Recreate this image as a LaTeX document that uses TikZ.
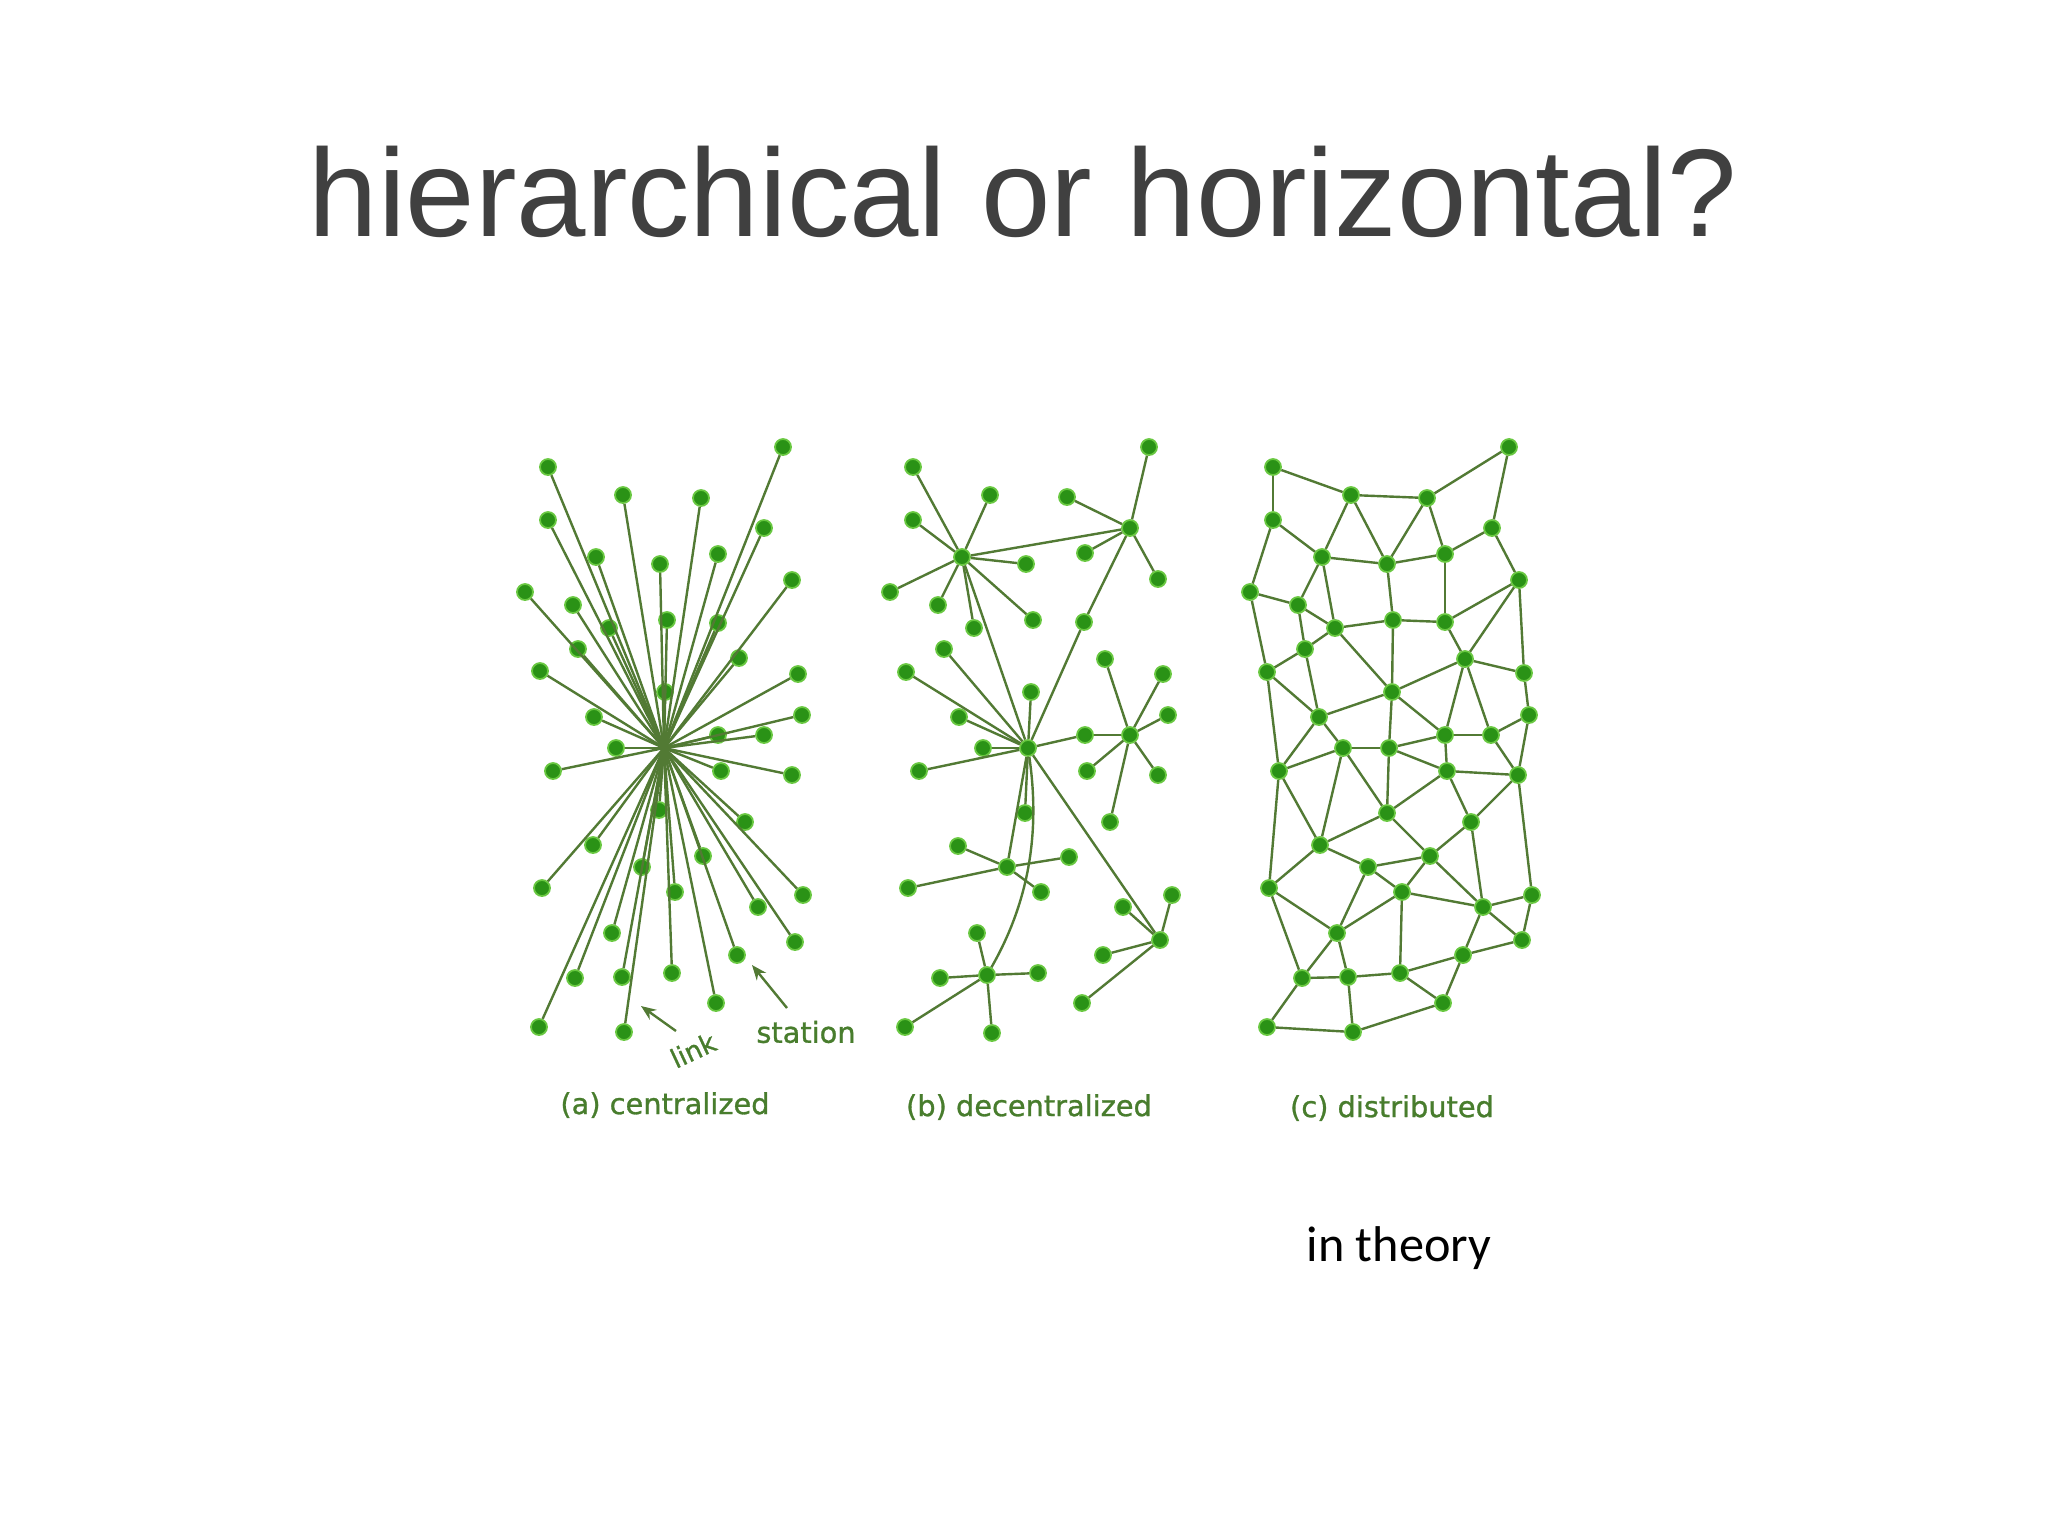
\documentclass[tikz,border=0pt]{standalone}
\usepackage{fontspec}
\setmainfont{Liberation Sans}
\newfontfamily\calib{Carlito}
\newfontfamily\handf[FakeBold=1]{DejaVu Sans}
\usetikzlibrary{arrows.meta}
\definecolor{dotg}{RGB}{42,146,22}
\definecolor{dotedge}{RGB}{105,200,65}
\definecolor{lineg}{RGB}{82,122,52}
\definecolor{labg}{RGB}{72,125,45}
\definecolor{titleg}{RGB}{64,64,64}
\begin{document}
\begin{tikzpicture}[x=0.1mm,y=-0.1mm,
  dot/.style={circle,fill=dotg,draw=dotedge,line width=0.18mm,minimum size=1.6mm,inner sep=0pt},
  link/.style={draw=lineg,line width=0.24mm},
  pointer/.style={draw=lineg,line width=0.24mm,-{Stealth[length=1.5mm,width=1.2mm]}},
  lab/.style={font=\handf\fontsize{8.2}{10}\selectfont,text=labg,inner sep=0pt}]
\useasboundingbox (0,0) rectangle (2048,1536);
\fill[white] (0,0) rectangle (2048,1536);

% title and caption
\node[anchor=base west,inner sep=0pt,text=titleg,font=\fontsize{35.5}{40}\selectfont] (title) at (308,236) {hierarchical or horizontal?};
\node[anchor=base west,inner sep=0pt,font=\calib\fontsize{14.3}{17}\selectfont] (theory) at (1306,1261) {in theory};

% ---------------- (a) centralized ----------------
\coordinate (ac) at (664,748);
\foreach \n/\x/\y in {a1/548/467,a2/783/447,a3/623/495,a4/701/498,a5/548/520,a6/764/528,
  a7/596/557,a8/718/554,a9/660/564,a10/525/592,a11/792/580,a12/573/605,a13/609/628,
  a14/667/620,a15/718/623,a16/578/649,a17/739/658,a18/540/671,a19/798/674,a20/665/692,
  a21/594/717,a22/802/715,a23/718/735,a24/764/735,a25/616/748,a26/553/771,a27/721/771,
  a28/792/775,a29/659/810,a30/745/822,a31/593/845,a32/703/856,a33/642/867,a34/542/888,
  a35/675/892,a36/803/895,a37/758/907,a38/612/933,a39/795/942,a40/737/955,a41/575/978,
  a42/622/977,a43/672/973,a44/716/1003,a45/539/1027,a46/624/1032}
  \node[dot] (\n) at (\x,\y) {};
\foreach \n in {1,...,46} \draw[link] (a\n) -- (ac);

\node[lab] (alab) at (665,1105) {(a) centralized};
\node[lab] (stlab) at (806,1032) {station};
\node[lab,rotate=25,font=\handf\fontsize{7.5}{9}\selectfont] (lklab) at (693,1050) {link};
\coordinate (stTail) at (787,1008);
\coordinate (stHead) at (752,965);
\coordinate (lkTail) at (676,1031);
\coordinate (lkHead) at (641,1006);
\draw[pointer] (stTail) -- (stHead);
\draw[pointer] (lkTail) -- (lkHead);

% ---------------- (b) decentralized ----------------
\foreach \n/\x/\y in {b1/913/467,b2/1149/447,b3/990/495,b4/1067/497,b5/913/520,
  bH1/962/557,bH2/1130/528,b8/1085/553,b9/1026/564,b10/1158/579,b11/890/592,b12/938/605,
  b13/1033/620,b14/974/628,b15/1084/622,b16/944/649,b17/1105/659,b18/1163/674,b19/906/672,
  b20/1031/692,b21/959/717,b22/1168/715,bH4/1130/735,b24/1085/735,bH3/1028/748,b26/983/748,
  b27/919/771,b28/1087/771,b29/1158/775,b30/1110/822,b31/1025/813,bH5/1007/867,b33/958/846,
  b34/1069/857,b35/908/888,b36/1041/892,bH6/987/975,b38/977/933,b39/940/978,b40/1038/973,
  b41/905/1027,b42/992/1033,bH7/1160/940,b44/1172/895,b45/1123/907,b46/1103/955,b47/1082/1003}
  \node[dot] (\n) at (\x,\y) {};
\foreach \n in {b1,b3,b5,b11,b12,b14,b13,b9,bH2,bH3} \draw[link] (bH1) -- (\n);
\foreach \n in {b2,b4,b8,b10,b15} \draw[link] (bH2) -- (\n);
\foreach \n in {b15,b16,b19,b20,b21,b26,b27,b24,b31,bH5,bH7} \draw[link] (bH3) -- (\n);
\foreach \n in {b24,b17,b18,b22,b28,b29,b30} \draw[link] (bH4) -- (\n);
\foreach \n in {b33,b34,b35,b36} \draw[link] (bH5) -- (\n);
\foreach \n in {b38,b39,b40,b41,b42} \draw[link] (bH6) -- (\n);
\foreach \n in {b44,b45,b46,b47} \draw[link] (bH7) -- (\n);
\draw[link] (bH3) .. controls (1040,830) and (1030,900) .. (bH6);
\node[lab] (blab) at (1029,1107) {(b) decentralized};

% ---------------- (c) distributed ----------------
\foreach \n/\x/\y in {c1/1273/467,c2/1509/447,c3/1351/495,c4/1427/498,c5/1273/520,
  c6/1492/528,c7/1322/557,c8/1387/564,c9/1445/554,c10/1519/580,c11/1250/592,c12/1298/605,
  c13/1393/620,c14/1445/622,c15/1335/628,c16/1305/649,c17/1465/659,c18/1267/672,
  c19/1524/673,c20/1392/692,c21/1319/717,c22/1529/715,c23/1445/735,c24/1491/735,
  c25/1343/748,c26/1389/748,c27/1279/771,c28/1447/771,c29/1518/775,c30/1387/813,
  c31/1471/822,c32/1320/845,c33/1430/856,c34/1368/867,c35/1269/888,c36/1402/892,
  c37/1532/895,c38/1483/907,c39/1337/933,c40/1522/940,c41/1463/955,c42/1302/978,
  c43/1348/977,c44/1400/973,c45/1443/1003,c46/1267/1027,c47/1353/1032}
  \node[dot] (\n) at (\x,\y) {};
\foreach \p/\q in {1/3,1/5,3/4,4/2,2/6,3/7,3/8,4/8,4/9,5/7,5/11,6/9,6/10,7/8,8/9,
  7/12,7/15,8/13,9/14,11/12,11/18,12/15,12/16,15/13,13/14,14/10,10/17,10/19,14/17,
  15/20,13/20,16/15,16/18,16/21,18/21,18/27,17/20,17/19,17/23,17/24,19/22,20/21,
  20/26,20/23,21/25,21/27,25/26,26/23,23/24,23/28,24/29,22/29,22/24,28/29,26/28,25/27,
  27/35,27/32,25/32,25/30,26/30,28/30,28/31,29/31,29/37,30/32,30/33,31/33,31/38,
  32/35,32/34,33/34,33/36,33/38,34/36,34/39,35/39,35/42,36/39,36/38,36/44,37/38,
  37/40,38/40,38/41,39/42,39/43,40/41,41/44,41/45,42/43,43/44,44/45,42/46,43/47,
  46/47,47/45}
  \draw[link] (c\p) -- (c\q);
\node[lab] (clab) at (1392,1108) {(c) distributed};
\end{tikzpicture}
\end{document}
